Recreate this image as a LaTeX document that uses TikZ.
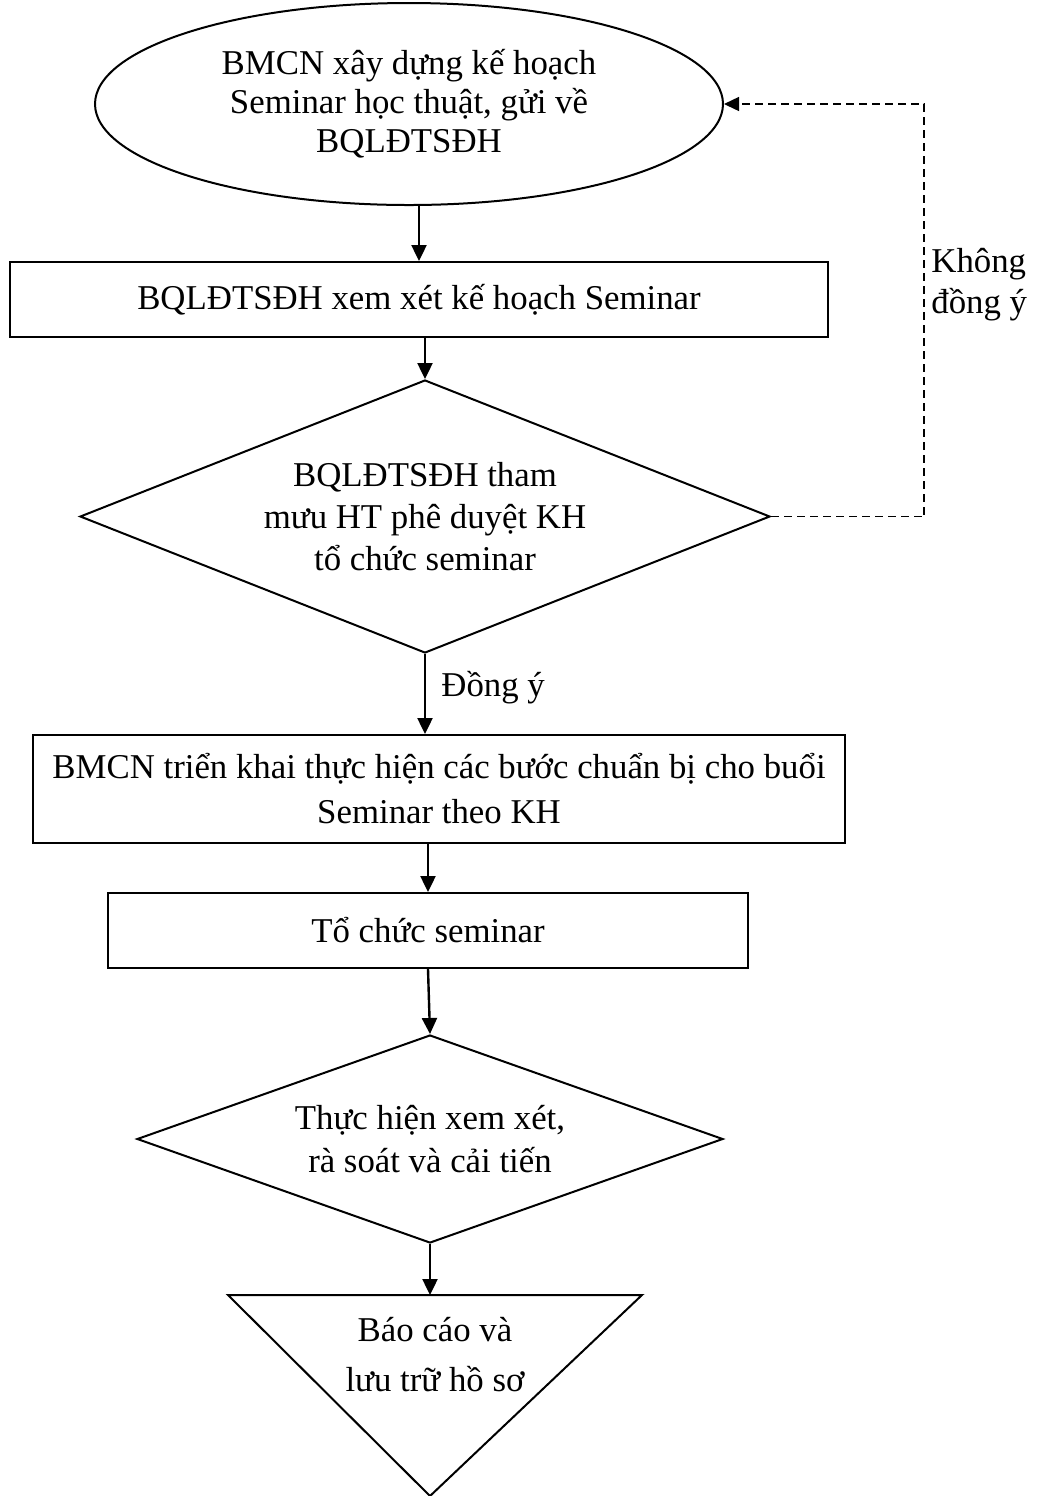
\documentclass[tikz,border=0pt]{standalone}
\usepackage{fontspec}
\setmainfont{Liberation Serif}
\usetikzlibrary{shapes.geometric,arrows.meta}
\tikzstyle{every node}=[font=\fontsize{17.4}{19.5}\selectfont,align=center,inner sep=0pt]
\tikzstyle{block}=[draw=black,line width=1pt,rectangle]
\tikzstyle{start}=[draw=black,line width=1pt,ellipse]
\tikzstyle{decision}=[draw=black,line width=1pt,diamond]
\tikzstyle{arr}=[line width=1.2pt,-{Triangle[length=8pt,width=7.5pt]}]
\tikzstyle{back}=[line width=0.7pt,dash pattern=on 4pt off 2.5pt,-{Triangle[length=7.5pt,width=7pt]}]

\begin{document}
\begin{tikzpicture}[x=0.5pt,y=-0.5pt]
  \useasboundingbox (0,0) rectangle (1038,1496);
  % main steps
  \node[start,minimum width=314pt,minimum height=101pt] (plan) at (409,104)
    {BMCN xây dựng kế hoạch\\Seminar học thuật, gửi về\\BQLĐTSĐH};
  \node[block,minimum width=409pt,minimum height=37.5pt] (review) at (419,299.5)
    {BQLĐTSĐH xem xét kế hoạch Seminar};
  \node[decision,shape aspect=2.5,minimum width=345pt,minimum height=136.5pt,
    font=\fontsize{17.4}{21}\selectfont] (approve) at (425,516.5)
    {BQLĐTSĐH tham\\mưu HT phê duyệt KH\\tổ chức seminar};
  \node[block,minimum width=406pt,minimum height=54pt,
    font=\fontsize{17.4}{22.5}\selectfont] (prepare) at (439,789)
    {BMCN triển khai thực hiện các bước chuẩn bị cho buổi\\Seminar theo KH};
  \node[block,minimum width=320pt,minimum height=37.5pt] (hold) at (428,930.5)
    {Tổ chức seminar};
  \node[decision,shape aspect=2.8,minimum width=293pt,minimum height=104pt,
    font=\fontsize{17.4}{21.5}\selectfont] (improve) at (430,1139)
    {Thực hiện xem xét,\\rà soát và cải tiến};
  % end triangle
  \coordinate (triL) at (228,1295);
  \coordinate (triR) at (642,1295);
  \coordinate (triB) at (430,1496);
  \coordinate (triT) at (430,1295);
  \draw[line width=1pt,line join=miter] (triL) -- (triR) -- (triB) -- cycle;
  \node[font=\fontsize{17.4}{25}\selectfont] (archive) at (435,1355) {Báo cáo và\\lưu trữ hồ sơ};
  % connectors
  \draw[arr] (review.north |- plan.south) -- (review.north);
  \draw[arr] (approve.north |- review.south) -- (approve.north);
  \draw[arr] (approve.south) -- (approve.south |- prepare.north);
  \draw[arr] (hold.north |- prepare.south) -- (hold.north);
  \draw[arr] (hold.south) -- (improve.north);
  \draw[arr] (improve.south) -- (triT);
  \coordinate (turn) at (924,517);
  \draw[back] (approve.east) -| (turn) |- (plan.east);
  % labels
  \node[anchor=west] (yes) at (441,688) {Đồng ý};
  \node[anchor=west,align=left,font=\fontsize{17.4}{20.5}\selectfont] (no) at (931,285) {Không\\đồng ý};
\end{tikzpicture}
\end{document}
